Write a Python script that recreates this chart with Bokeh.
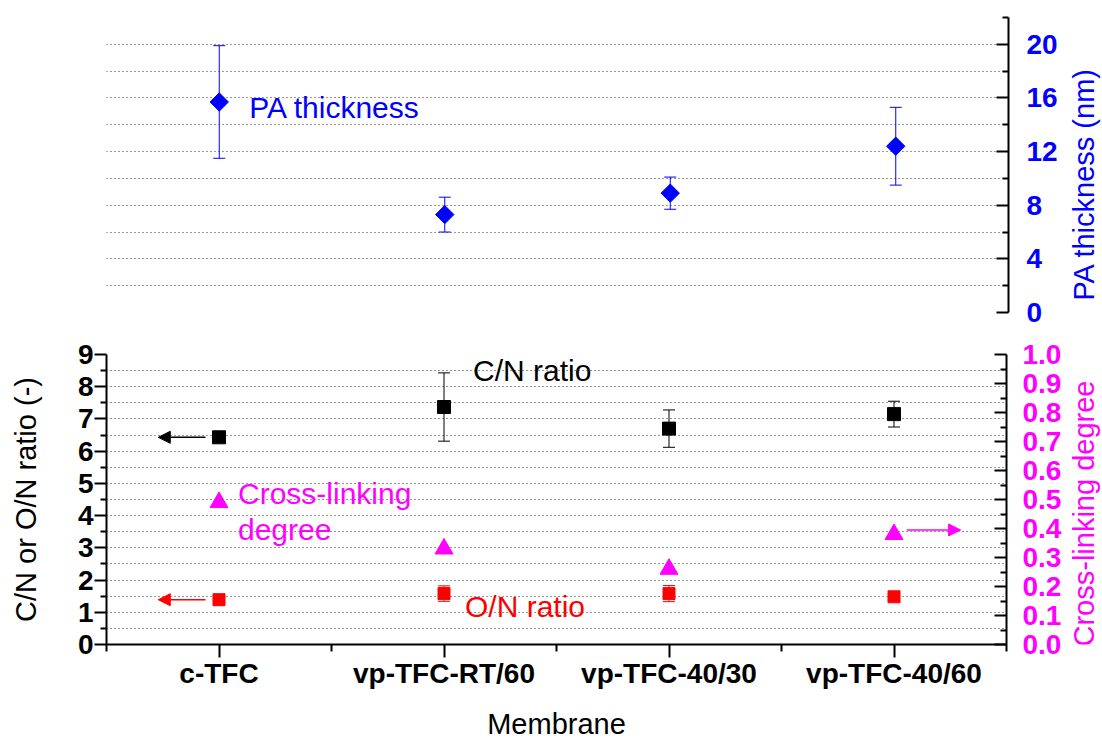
import math
from bokeh.plotting import figure
from bokeh.layouts import column, row
from bokeh.models import (Range1d, LinearAxis, FixedTicker, Whisker, TeeHead, Arrow,
                          NormalHead, Label, ColumnDataSource, PrintfTickFormatter)
from bokeh.embed import file_html
from bokeh.resources import INLINE

# ---------------- data ----------------
membranes = ["c-TFC", "vp-TFC-RT/60", "vp-TFC-40/30", "vp-TFC-40/60"]
pa_thickness = [15.7, 7.3, 8.9, 12.4]          # nm
pa_thickness_err = [4.2, 1.3, 1.2, 2.9]
cn_ratio = [6.43, 7.37, 6.70, 7.15]
cn_ratio_err = [0.08, 1.06, 0.58, 0.40]
on_ratio = [1.39, 1.58, 1.58, 1.48]
on_ratio_err = [0.05, 0.24, 0.25, 0.05]
crosslink = [0.49, 0.33, 0.26, 0.38]

top_ticks = [0, 4, 8, 12, 16, 20]
top_minor = [2, 6, 10, 14, 18, 22]
top_grid = [2, 4, 6, 8, 10, 12, 14, 16, 18, 20]
left_ticks = [0, 1, 2, 3, 4, 5, 6, 7, 8, 9]
left_minor = [0.5, 1.5, 2.5, 3.5, 4.5, 5.5, 6.5, 7.5, 8.5]
left_grid = [0.5, 1, 1.5, 2, 2.5, 3, 3.5, 4, 4.5, 5, 5.5, 6, 6.5, 7, 7.5, 8, 8.5]
right_ticks = [0.0, 0.1, 0.2, 0.3, 0.4, 0.5, 0.6, 0.7, 0.8, 0.9, 1.0]
right_minor = [0.05, 0.15, 0.25, 0.35, 0.45, 0.55, 0.65, 0.75, 0.85, 0.95]

xs = [i + 1 for i in range(len(membranes))]
x_minor = [i + 0.5 for i in range(len(membranes) + 1)]

FONT = "Liberation Sans"
TITLE_FS = "29px"
NOTE_FS = "30px"
TICK_FS = "28px"
BLUE = "#0000FF"
MAGENTA = "#FF00FF"
RED = "#FF0000"
GRID_COLOR = "#333333"

TOTAL_W = 1102
TITLE_W = 38                 # strip that carries the right-hand axis titles
W = TOTAL_W - TITLE_W        # main figures
LB = 106
RB = W - 1008
TOP_H = 328
BOT_H = 414


def style_axis(ax, color, out_major, in_major, out_minor, in_minor):
    ax.axis_line_color = "black"
    ax.axis_line_width = 2
    ax.major_tick_line_color = "black"
    ax.minor_tick_line_color = "black"
    ax.major_tick_line_width = 2
    ax.minor_tick_line_width = 2
    ax.major_tick_out = out_major
    ax.major_tick_in = in_major
    ax.minor_tick_out = out_minor
    ax.minor_tick_in = in_minor
    ax.major_label_text_font = FONT
    ax.major_label_text_font_size = TICK_FS
    ax.major_label_text_font_style = "bold"
    ax.major_label_text_color = color
    ax.axis_label_text_font = FONT
    ax.axis_label_text_font_size = TITLE_FS
    ax.axis_label_text_font_style = "normal"
    ax.axis_label_text_color = color


def title_strip(text, color, height, y_offset):
    # narrow figure holding a right-hand axis title that reads bottom to top
    s = figure(width=TITLE_W, height=height, x_range=Range1d(0, 1), y_range=Range1d(0, 1),
               x_axis_location=None, y_axis_location=None,
               output_backend="svg", toolbar_location=None,
               min_border_left=0, min_border_right=0, min_border_top=0, min_border_bottom=0)
    s.outline_line_color = None
    s.xgrid.visible = False
    s.ygrid.visible = False
    s.add_layout(Label(x=0.5, y=0.5, x_offset=0, y_offset=y_offset, angle=math.pi / 2,
                       text=text, text_color=color, text_font=FONT, text_font_size=TITLE_FS,
                       text_align="center", text_baseline="middle"))
    return s


# ---------------- top panel: PA thickness ----------------
top = figure(width=W, height=TOP_H, x_range=Range1d(0.5, 4.5), y_range=Range1d(0, 22),
             x_axis_location=None, y_axis_location="right",
             output_backend="svg", toolbar_location=None,
             min_border_left=LB, min_border_right=RB, min_border_top=17, min_border_bottom=16)
top.outline_line_color = None
top.background_fill_color = "white"
top.xgrid.visible = False
top.ygrid.ticker = FixedTicker(ticks=top_grid)
top.ygrid.grid_line_color = GRID_COLOR
top.ygrid.grid_line_dash = "1 3"
top.ygrid.grid_line_width = 1

ya = top.yaxis[0]
ya.ticker = FixedTicker(ticks=top_ticks, minor_ticks=top_minor)
style_axis(ya, BLUE, 0, 12, 0, 6)
ya.major_label_standoff = 18

tsrc = ColumnDataSource(dict(
    x=xs, y=pa_thickness,
    upper=[v + e for v, e in zip(pa_thickness, pa_thickness_err)],
    lower=[v - e for v, e in zip(pa_thickness, pa_thickness_err)]))
top.add_layout(Whisker(source=tsrc, base="x", upper="upper", lower="lower", dimension="height",
                       line_color=BLUE, line_width=1, level="glyph",
                       upper_head=TeeHead(size=12, line_color=BLUE, line_width=1),
                       lower_head=TeeHead(size=12, line_color=BLUE, line_width=1)))
top.scatter("x", "y", source=tsrc, marker="square", angle=0.7853981634, size=13,
            fill_color=BLUE, line_color=BLUE)
top.add_layout(Label(x=xs[0], y=pa_thickness[0], x_offset=30, y_offset=-6,
                     text="PA thickness", text_color=BLUE, text_font=FONT,
                     text_font_size=NOTE_FS, text_baseline="alphabetic"))

# ---------------- bottom panel: ratios + cross-linking ----------------
bot = figure(width=W, height=BOT_H, x_range=Range1d(0.5, 4.5), y_range=Range1d(0, 9),
             output_backend="svg", toolbar_location=None,
             min_border_left=LB, min_border_right=RB, min_border_top=26, min_border_bottom=BOT_H - 319)
bot.outline_line_color = None
bot.background_fill_color = "white"
bot.extra_y_ranges = {"right": Range1d(0, 1.0)}
bot.xgrid.visible = False
bot.ygrid.ticker = FixedTicker(ticks=left_grid)
bot.ygrid.grid_line_color = GRID_COLOR
bot.ygrid.grid_line_dash = "1 3"
bot.ygrid.grid_line_width = 1

xa = bot.xaxis[0]
xa.ticker = FixedTicker(ticks=xs, minor_ticks=x_minor)
xa.major_label_overrides = {x: m for x, m in zip(xs, membranes)}
xa.axis_label = "Membrane"
style_axis(xa, "black", 13, 0, 7, 0)
xa.major_label_standoff = 0
xa.axis_label_standoff = 16

la = bot.yaxis[0]
la.ticker = FixedTicker(ticks=left_ticks, minor_ticks=left_minor)
la.axis_label = "C/N or O/N ratio (-)"
style_axis(la, "black", 12, 0, 6, 0)
la.major_label_standoff = 1
la.axis_label_standoff = 33

ra = LinearAxis(y_range_name="right")
ra.ticker = FixedTicker(ticks=right_ticks, minor_ticks=right_minor)
ra.formatter = PrintfTickFormatter(format="%.1f")
style_axis(ra, MAGENTA, 0, 12, 0, 6)
ra.major_label_standoff = 16
bot.add_layout(ra, "right")

cnsrc = ColumnDataSource(dict(
    x=xs, y=cn_ratio,
    upper=[v + e for v, e in zip(cn_ratio, cn_ratio_err)],
    lower=[v - e for v, e in zip(cn_ratio, cn_ratio_err)]))
onsrc = ColumnDataSource(dict(
    x=xs, y=on_ratio,
    upper=[v + e for v, e in zip(on_ratio, on_ratio_err)],
    lower=[v - e for v, e in zip(on_ratio, on_ratio_err)]))
clsrc = ColumnDataSource(dict(x=xs, y=crosslink))

for src, col in ((cnsrc, "black"), (onsrc, RED)):
    bot.add_layout(Whisker(source=src, base="x", upper="upper", lower="lower", dimension="height",
                           line_color=col, line_width=1, level="glyph",
                           upper_head=TeeHead(size=12, line_color=col, line_width=1),
                           lower_head=TeeHead(size=12, line_color=col, line_width=1)))

bot.scatter("x", "y", source=cnsrc, marker="square", size=13, fill_color="black", line_color="black")
bot.scatter("x", "y", source=onsrc, marker="square", size=12, fill_color=RED, line_color=RED)
bot.scatter("x", "y", source=clsrc, marker="triangle", size=18, fill_color=MAGENTA,
            line_color=MAGENTA, y_range_name="right")

# arrows pointing to the relevant axis
bot.add_layout(Arrow(x_start=xs[0] - 0.06, y_start=cn_ratio[0], x_end=xs[0] - 0.27, y_end=cn_ratio[0],
                     line_color="black", line_width=1.5,
                     end=NormalHead(size=12, fill_color="black", line_color="black")))
bot.add_layout(Arrow(x_start=xs[0] - 0.06, y_start=on_ratio[0], x_end=xs[0] - 0.27, y_end=on_ratio[0],
                     line_color=RED, line_width=1.5,
                     end=NormalHead(size=12, fill_color=RED, line_color=RED)))
bot.add_layout(Arrow(x_start=xs[3] + 0.057, y_start=crosslink[3] + 0.015,
                     x_end=xs[3] + 0.296, y_end=crosslink[3] + 0.015,
                     y_range_name="right", line_color=MAGENTA, line_width=1.5,
                     end=NormalHead(size=12, fill_color=MAGENTA, line_color=MAGENTA)))

# annotations
bot.add_layout(Label(x=xs[1], y=cn_ratio[1], x_offset=29, y_offset=37, text="C/N ratio",
                     text_color="black", text_font=FONT, text_font_size=NOTE_FS,
                     text_baseline="alphabetic"))
bot.add_layout(Label(x=xs[1], y=on_ratio[1], x_offset=21, y_offset=-13, text="O/N ratio",
                     text_color=RED, text_font=FONT, text_font_size=NOTE_FS,
                     text_baseline="alphabetic"))
bot.add_layout(Label(x=xs[0], y=crosslink[0], y_range_name="right", x_offset=19, y_offset=9,
                     text="Cross-linking", text_color=MAGENTA, text_font=FONT,
                     text_font_size=NOTE_FS, text_baseline="alphabetic"))
bot.add_layout(Label(x=xs[0], y=crosslink[0], y_range_name="right", x_offset=19, y_offset=-27,
                     text="degree", text_color=MAGENTA, text_font=FONT,
                     text_font_size=NOTE_FS, text_baseline="alphabetic"))

top_title = title_strip("PA thickness (nm)", BLUE, TOP_H, -19)
bot_title = title_strip("Cross-linking degree", MAGENTA, BOT_H, -14)

layout = column(row(top, top_title, spacing=0), row(bot, bot_title, spacing=0), spacing=0)
open("out.html", "w").write(file_html(layout, INLINE))
